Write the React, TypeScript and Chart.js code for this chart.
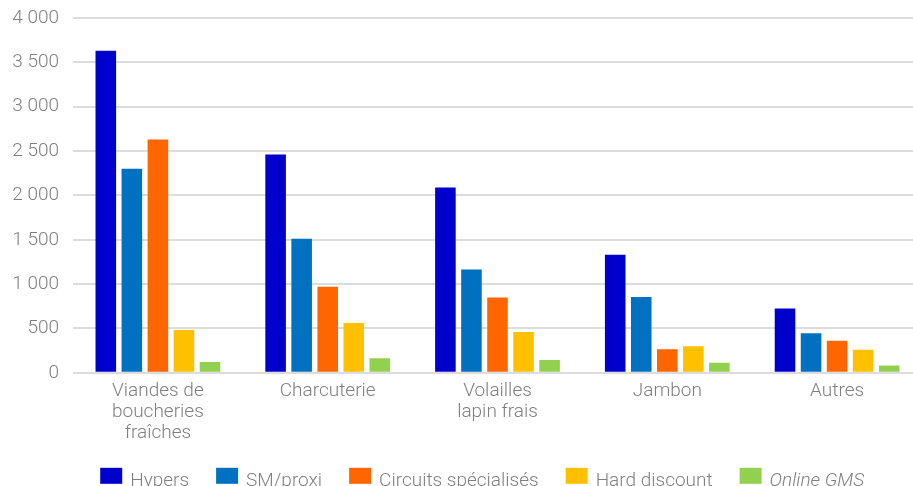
import React, { useEffect, useRef } from "react";
import { Chart, registerables } from "chart.js";

Chart.register(...registerables);

const categories: string[][] = [
  ["Viandes de", "boucheries", "fraîches"],
  ["Charcuterie"],
  ["Volailles", "lapin frais"],
  ["Jambon"],
  ["Autres"],
];

const seriesNames = ["Hypers", "SM/proxi", "Circuits spécialisés", "Hard discount", "Online GMS"];

const hypers = [3630, 2460, 2090, 1330, 725];
const smProxi = [2300, 1510, 1165, 855, 445];
const circuits = [2630, 970, 850, 265, 362];
const hardDiscount = [483, 562, 460, 300, 260];
const onlineGms = [121, 165, 144, 113, 83];

const seriesValues = [hypers, smProxi, circuits, hardDiscount, onlineGms];
const seriesColors = ["#0000CC", "#0070C0", "#FF6600", "#FFC000", "#92D050"];
const italicSeries = ["Online GMS"];

const yMin = 0;
const yMax = 4000;
const yStep = 500;

const FONT = "Roboto, 'Noto Sans', sans-serif";
const TEXT_COLOR = "#808080";

const fmt = (v: number) => String(v).replace(/\B(?=(\d{3})+(?!\d))/g, " ");

const legendPlugin = {
  id: "customLegend",
  afterDraw(chart: any) {
    const ctx = chart.ctx as CanvasRenderingContext2D;
    const area = chart.chartArea;
    const boxW = 22;
    const boxH = 16;
    const boxGap = 8;
    const itemGap = 27;
    const size = 19;
    ctx.save();
    const items = chart.data.datasets.map((ds: any) => {
      const italic = italicSeries.includes(ds.label);
      const font = `${italic ? "italic " : ""}300 ${size}px ${FONT}`;
      ctx.font = font;
      const tw = ctx.measureText(ds.label).width;
      return { label: ds.label, color: ds.backgroundColor, font, tw, w: boxW + boxGap + tw };
    });
    const total = items.reduce((s: number, it: any) => s + it.w, 0) + itemGap * (items.length - 1);
    const cx = area.left + (area.right - area.left) * 0.482;
    let x = cx - total / 2;
    const boxTop = area.bottom + 95;
    for (const it of items) {
      ctx.fillStyle = it.color;
      ctx.fillRect(x, boxTop, boxW, boxH);
      ctx.font = it.font;
      ctx.fillStyle = TEXT_COLOR;
      ctx.textBaseline = "alphabetic";
      ctx.textAlign = "left";
      ctx.fillText(it.label, x + boxW + boxGap, boxTop + boxH + 2);
      x += it.w + itemGap;
    }
    ctx.restore();
  },
};

export default function App() {
  const ref = useRef<HTMLCanvasElement | null>(null);
  useEffect(() => {
    if (!ref.current) return;
    const chart = new Chart(ref.current, {
      type: "bar",
      data: {
        labels: categories,
        datasets: seriesNames.map((name, i) => ({
          label: name,
          data: seriesValues[i],
          backgroundColor: seriesColors[i],
          borderWidth: 0,
          categoryPercentage: 0.767,
          barPercentage: 0.79,
        })),
      },
      options: {
        animation: false,
        responsive: false,
        devicePixelRatio: 1,
        layout: { padding: { top: 18, left: 13, right: 8, bottom: 48.5 } },
        plugins: {
          legend: { display: false },
          tooltip: { enabled: false },
        },
        scales: {
          x: {
            grid: { display: false, drawTicks: false },
            border: { display: false },
            ticks: {
              color: TEXT_COLOR,
              padding: 8,
              maxRotation: 0,
              autoSkip: false,
              font: { family: FONT, size: 19, weight: "300" as any, lineHeight: 1.1 },
            },
          },
          y: {
            min: yMin,
            max: yMax,
            grid: { color: "#dcdcdc", lineWidth: 2, drawTicks: false },
            border: { display: false },
            afterFit: (s: any) => {
              s.width = 60;
              s.paddingTop = 0;
              s.paddingBottom = 0;
            },
            ticks: {
              stepSize: yStep,
              color: TEXT_COLOR,
              padding: 14,
              font: { family: FONT, size: 19, weight: "300" as any },
              callback: (v: any) => fmt(Number(v)),
            },
          },
        },
      },
      plugins: [legendPlugin],
    });
    return () => chart.destroy();
  }, []);
  return (
    <div
      style={{
        position: "fixed",
        left: 0,
        top: 0,
        width: 913,
        height: 486,
        overflow: "hidden",
        background: "#ffffff",
      }}
    >
      <canvas ref={ref} width={930} height={500} style={{ display: "block" }} />
    </div>
  );
}
